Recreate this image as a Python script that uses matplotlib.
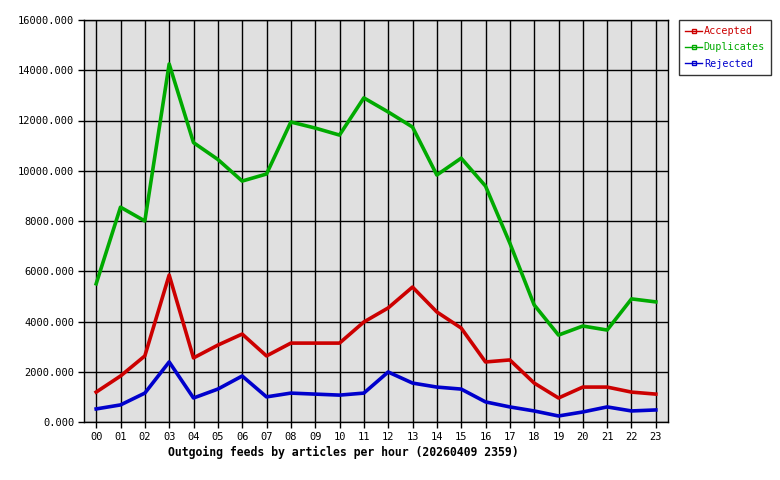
import matplotlib
matplotlib.use('Agg')
from matplotlib import pyplot as plt

hours = ['%02d' % h for h in range(24)]

accepted = [1190, 1830, 2630, 5850, 2550, 3060, 3500, 2630, 3140, 3140, 3140, 3980,
            4540, 5370, 4380, 3740, 2390, 2470, 1550, 955, 1390, 1390, 1190, 1110]
duplicates = [5500, 8550, 8000, 14250, 11120, 10450, 9590, 9870, 11940, 11700, 11420, 12900,
              12340, 11740, 9830, 10500, 9390, 7120, 4660, 3460, 3820, 3660, 4900, 4780]
rejected = [520, 680, 1150, 2390, 955, 1310, 1830, 1000, 1150, 1110, 1070, 1150,
            1990, 1550, 1390, 1310, 800, 600, 440, 240, 400, 600, 440, 480]

series = [('Accepted', accepted, '#cc0000'),
          ('Duplicates', duplicates, '#00aa00'),
          ('Rejected', rejected, '#0000cc')]

plt.rcParams['font.family'] = ['DejaVu Sans Mono']

fig = plt.figure(figsize=(7.8, 4.8), dpi=100)
ax = fig.add_axes([84 / 780, 1 - 422 / 480, 584 / 780, 402 / 480])
ax.set_facecolor('#e0e0e0')

x = list(range(len(hours)))
handles = []
for name, vals, col in series:
    ax.plot(x, vals, color=col, linewidth=2.6, zorder=3)
    # legend handle: thin line with a small square marker
    h, = ax.plot([], [], color=col, linewidth=1, marker='s', markersize=3,
                 markerfacecolor='none', markeredgecolor=col, label=name)
    handles.append(h)

ax.set_xlim(-0.5, 23.5)
ax.set_ylim(0, 16000)
ax.set_xticks(x)
ax.set_xticklabels(hours, fontsize=7.5)
ax.set_yticks(range(0, 16001, 2000))
ax.set_yticklabels(['%.3f' % v for v in range(0, 16001, 2000)], fontsize=7.5)
ax.grid(True, color='black', linewidth=1)
ax.set_axisbelow(True)
for s in ax.spines.values():
    s.set_color('black')
    s.set_linewidth(1)
ax.tick_params(axis='both', length=4, width=1, color='black', pad=3)

fig.text(343 / 780, 1 - 452 / 480, 'Outgoing feeds by articles per hour (20260409 2359)',
         ha='center', va='center', fontsize=8.3, fontweight='bold')

leg = fig.legend(handles=handles, loc='upper left', bbox_to_anchor=(679 / 780, 1 - 20 / 480),
                 fontsize=7.3, frameon=True, fancybox=False, edgecolor='black',
                 handlelength=1.7, handletextpad=0.15, borderpad=0.6, labelspacing=0.62,
                 borderaxespad=0)
leg.get_frame().set_linewidth(1)
for t, (_, _, col) in zip(leg.get_texts(), series):
    t.set_color(col)

fig.savefig('out.png', dpi=100)
